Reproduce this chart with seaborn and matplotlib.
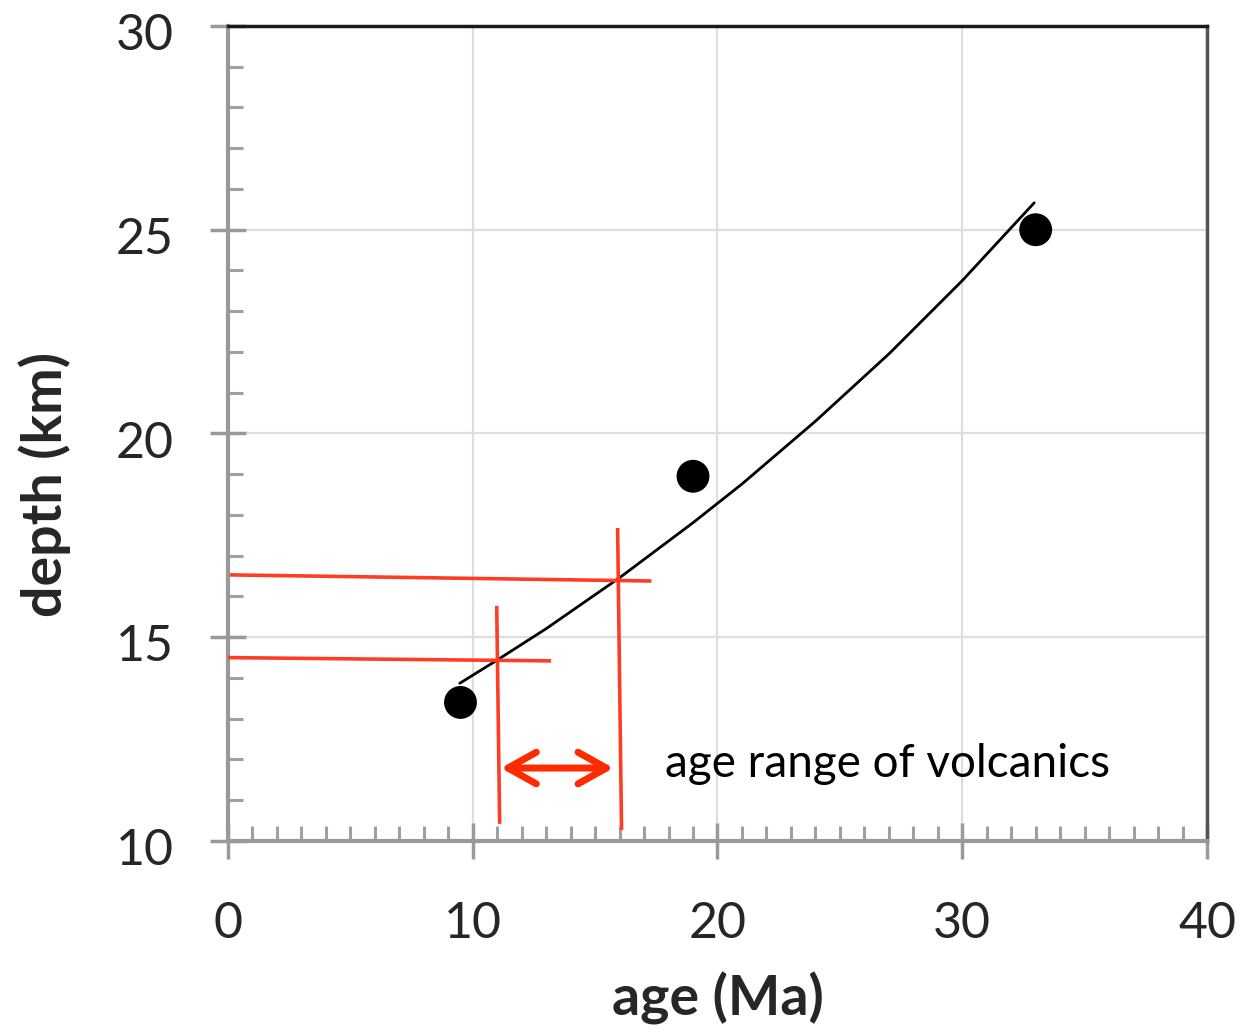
import matplotlib
matplotlib.use("Agg")
import matplotlib.pyplot as plt
import matplotlib.transforms as mtransforms
import seaborn as sns
from matplotlib.ticker import MultipleLocator

sns.set_theme(style="white")
plt.rcParams['font.family'] = ['Lato', 'DejaVu Sans']

# data points
ages = [9.5, 19.0, 33.0]
depths = [13.4, 18.95, 25.0]

# trend line
trend_age = [9.47, 11, 13, 16, 19, 21, 24, 27, 30, 32.94]
trend_depth = [13.87, 14.44, 15.21, 16.46, 17.81, 18.76, 20.30, 21.95, 23.75, 25.66]

# red construction lines (x0, x1, y0, y1)
h_lines = [(0.0, 13.2, 14.50, 14.42), (0.08, 17.3, 16.53, 16.38)]
v_lines = [(10.98, 11.10, 15.77, 10.42), (15.92, 16.08, 17.68, 10.27)]
arrow_x = [11.15, 15.75]
arrow_y = 11.79
label_text = "age range of volcanics"

fig = plt.figure(figsize=(12.41, 10.30), dpi=100)
ax = fig.add_axes([0.1837, 0.1835, 0.9726 - 0.1837, 0.9748 - 0.1835])

ax.grid(True, color='#dedede', linewidth=1.6)
ax.set_axisbelow(True)

sns.lineplot(x=trend_age, y=trend_depth, ax=ax, color='black', linewidth=2.0, zorder=3)

for x0, x1, y0, y1 in h_lines:
    ax.plot([x0, x1], [y0, y1], color='#ff3d24', linewidth=2.6, zorder=4, solid_capstyle='butt')
for x0, x1, y0, y1 in v_lines:
    ax.plot([x0, x1], [y0, y1], color='#ff3d24', linewidth=2.6, zorder=4, solid_capstyle='butt')

sns.scatterplot(x=ages, y=depths, ax=ax, color='black', s=560, edgecolor='none', zorder=5)

ax.annotate('', xy=(arrow_x[0], arrow_y), xytext=(arrow_x[1], arrow_y),
            arrowprops=dict(arrowstyle='<->,head_length=1.7,head_width=0.95',
                            mutation_scale=12,
                            color='#ff2a00', linewidth=5, capstyle='round',
                            joinstyle='round', shrinkA=0, shrinkB=0), zorder=6)
ax.text(17.84, 11.9, label_text, fontsize=33, color='black', va='center', ha='left')

ax.set_xlim(0, 40)
ax.set_ylim(10, 30)
ax.xaxis.set_major_locator(MultipleLocator(10))
ax.yaxis.set_major_locator(MultipleLocator(5))
ax.xaxis.set_minor_locator(MultipleLocator(1))
ax.yaxis.set_minor_locator(MultipleLocator(1))

ax.tick_params(axis='both', which='major', direction='inout', length=26, width=2.5,
               color='#9a9a9a', labelsize=36, pad=26, bottom=True, left=True)
ax.tick_params(axis='x', which='major', pad=30)
ax.tick_params(axis='both', which='minor', direction='in', length=11, width=2.2,
               color='#a0a0a0', bottom=True, left=True)

# Excel-like slight downward offset of y tick labels
offset = mtransforms.ScaledTranslation(0, -4 / 72, fig.dpi_scale_trans)
for lbl in ax.get_yticklabels():
    lbl.set_transform(lbl.get_transform() + offset)

for side in ['left', 'bottom']:
    ax.spines[side].set_color('#999999')
    ax.spines[side].set_linewidth(3)
ax.spines['top'].set_color('#1a1a1a')
ax.spines['top'].set_linewidth(2.5)
ax.spines['right'].set_color('#555555')
ax.spines['right'].set_linewidth(2.5)

ax.set_xlabel('age (Ma)', fontsize=40, fontweight='bold')
ax.set_ylabel('depth (km)', fontsize=40, fontweight='bold')
ax.yaxis.label.set_va('center')
ax.yaxis.set_label_coords(-0.187, 0.437)
ax.xaxis.set_label_coords(0.5, -0.160)

fig.savefig('out.png', dpi=100)
